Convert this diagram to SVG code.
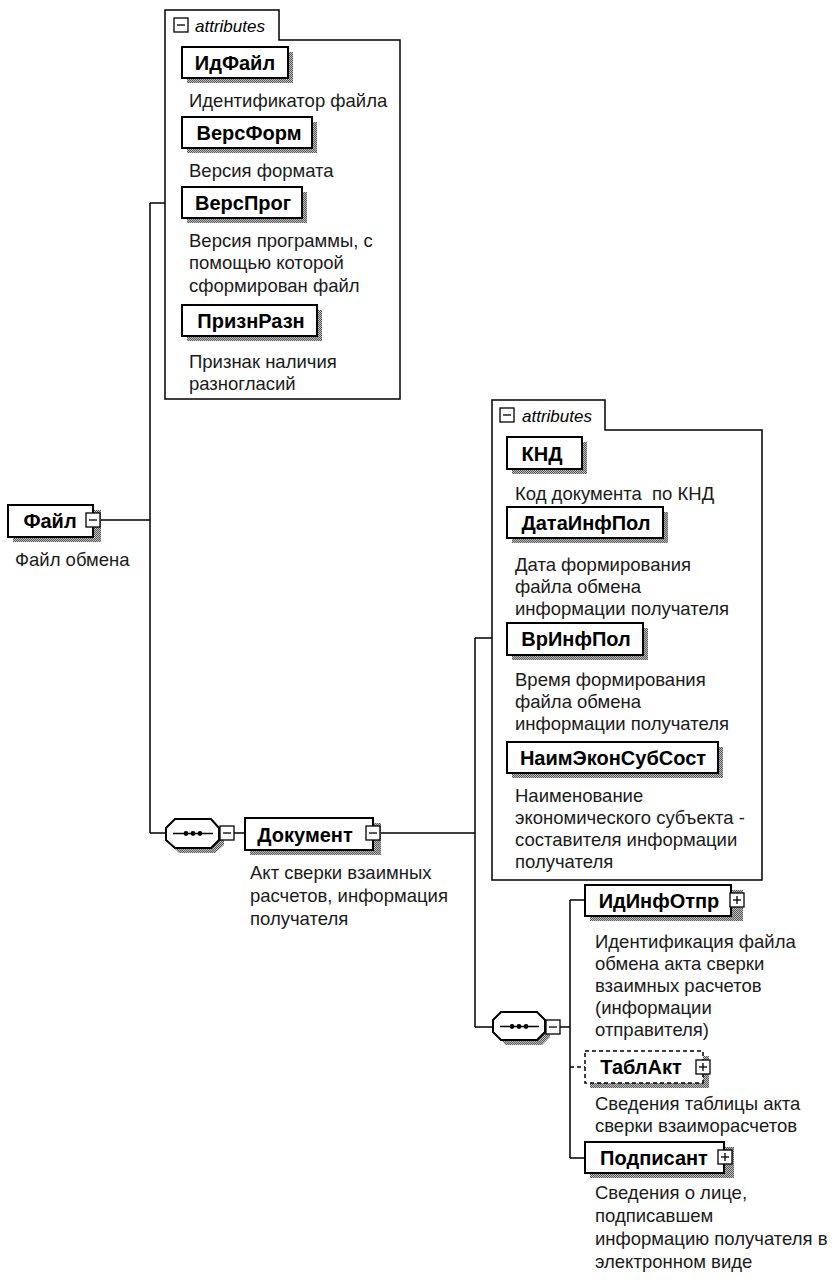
<svg xmlns="http://www.w3.org/2000/svg" width="837" height="1287" viewBox="0 0 837 1287">
<defs>
<pattern id="ht" width="2" height="2" patternUnits="userSpaceOnUse"><rect width="2" height="2" fill="#bdbdbd"/><rect width="1" height="1" fill="#5a5a5a"/><rect x="1" y="1" width="1" height="1" fill="#5a5a5a"/></pattern>
<g id="minus"><rect x="0" y="0" width="14" height="14" fill="#fff" stroke="#000" stroke-width="1.3"/><line x1="3" y1="7" x2="11" y2="7" stroke="#000" stroke-width="1.3"/></g>
<g id="plus"><rect x="0" y="0" width="14" height="14" fill="#fff" stroke="#000" stroke-width="1.3"/><line x1="3" y1="7" x2="11" y2="7" stroke="#000" stroke-width="1.3"/><line x1="7" y1="3" x2="7" y2="11" stroke="#000" stroke-width="1.3"/></g>
</defs>
<style>
.bx{fill:#fff;stroke:#000;stroke-width:2}
.dbx{fill:#fff;stroke:#000;stroke-width:1.5;stroke-dasharray:4 3}
.sh{fill:url(#ht)}
.cont{fill:#fff;stroke:#000;stroke-width:1.5}
.nm{font-family:"Liberation Sans",Arial,sans-serif;font-weight:bold;font-size:20px;fill:#000;text-anchor:middle}
.ds{font-family:"Liberation Sans",Arial,sans-serif;font-size:18.5px;fill:#1a1a1a}
.at{font-family:"Liberation Sans",Arial,sans-serif;font-style:italic;font-size:17px;fill:#000}
.ln{fill:none;stroke:#000;stroke-width:1.5}
.dln{fill:none;stroke:#000;stroke-width:1.5;stroke-dasharray:4 3}
</style>
<rect width="837" height="1287" fill="#fff"/>

<g id="connectors">
<path class="ln" d="M100,520 H150 M150,203 V833 M150,203 H165 M150,833 H166 M234,833 H245 M380,833 H475 M475,638 V1027 M475,638 H492 M475,1027 H493 M560,1027 H570 M570,900 V1158 M570,900 H585 M570,1158 H585"/>
<path class="dln" d="M570,1067 H585"/>
</g>

<g id="attrs1">
<path class="cont" d="M165,399 V10 H279 V40 H400 V399 Z"/>
<use href="#minus" x="174" y="18"/>
<text class="at" x="195" y="32">attributes</text>
</g>
<g id="ИдФайл">
<rect class="sh" x="187" y="52" width="106" height="31"/>
<rect class="bx" x="182" y="47" width="106" height="31"/>
<text class="nm" x="235" y="70">ИдФайл</text>
<text class="ds" x="189" y="107">Идентификатор файла</text>
</g>
<g id="ВерсФорм">
<rect class="sh" x="187" y="122" width="130" height="31"/>
<rect class="bx" x="182" y="117" width="130" height="31"/>
<text class="nm" x="249" y="140">ВерсФорм</text>
<text class="ds" x="189" y="177">Версия формата</text>
</g>
<g id="ВерсПрог">
<rect class="sh" x="187" y="192" width="120" height="31"/>
<rect class="bx" x="182" y="187" width="120" height="31"/>
<text class="nm" x="243" y="210">ВерсПрог</text>
<text class="ds" x="189" y="247">Версия программы, с</text>
<text class="ds" x="189" y="269">помощью которой</text>
<text class="ds" x="189" y="292">сформирован файл</text>
</g>
<g id="ПризнРазн">
<rect class="sh" x="187" y="310" width="135" height="31"/>
<rect class="bx" x="182" y="305" width="135" height="31"/>
<text class="nm" x="251" y="328">ПризнРазн</text>
<text class="ds" x="189" y="368">Признак наличия</text>
<text class="ds" x="189" y="390">разногласий</text>
</g>

<g id="Файл">
<rect class="sh" x="13" y="510" width="88" height="32"/>
<rect class="bx" x="8" y="505" width="85" height="32"/>
<use href="#minus" x="86" y="513"/>
<text class="nm" x="50" y="528">Файл</text>
<text class="ds" x="15" y="566">Файл обмена</text>
</g>

<g id="seq1">
<polygon class="sh" points="179,824 215,824 224,833 224,845 215,853 179,853 171,845 171,833"/>
<polygon class="bx" points="175,819 211,819 219,828 219,840 211,848 175,848 166,840 166,828"/>
<line x1="173" y1="833.5" x2="213" y2="833.5" stroke="#000" stroke-width="1.5"/>
<circle cx="186" cy="833.5" r="2.4"/><circle cx="193" cy="833.5" r="2.4"/><circle cx="200" cy="833.5" r="2.4"/>
<use href="#minus" x="220" y="826"/>
</g>

<g id="Документ">
<rect class="sh" x="250" y="823" width="131" height="32"/>
<rect class="bx" x="245" y="818" width="128" height="32"/>
<use href="#minus" x="366" y="826"/>
<text class="nm" x="305" y="842">Документ</text>
<text class="ds" x="250" y="879">Акт сверки взаимных</text>
<text class="ds" x="250" y="902">расчетов, информация</text>
<text class="ds" x="250" y="925">получателя</text>
</g>

<g id="attrs2">
<path class="cont" d="M492,880 V400 H605 V430 H762 V880 Z"/>
<use href="#minus" x="500" y="408"/>
<text class="at" x="522" y="422">attributes</text>
</g>
<g id="КНД">
<rect class="sh" x="512" y="442" width="75" height="32"/>
<rect class="bx" x="507" y="437" width="75" height="32"/>
<text class="nm" x="542" y="461">КНД</text>
<text class="ds" x="515" y="500" xml:space="preserve">Код документа  по КНД</text>
</g>
<g id="ДатаИнфПол">
<rect class="sh" x="512" y="512" width="156" height="31"/>
<rect class="bx" x="507" y="507" width="156" height="31"/>
<text class="nm" x="586" y="530">ДатаИнфПол</text>
<text class="ds" x="515" y="571">Дата формирования</text>
<text class="ds" x="515" y="593">файла обмена</text>
<text class="ds" x="515" y="615">информации получателя</text>
</g>
<g id="ВрИнфПол">
<rect class="sh" x="512" y="628" width="136" height="32"/>
<rect class="bx" x="507" y="623" width="136" height="32"/>
<text class="nm" x="576" y="646">ВрИнфПол</text>
<text class="ds" x="515" y="686">Время формирования</text>
<text class="ds" x="515" y="708">файла обмена</text>
<text class="ds" x="515" y="730">информации получателя</text>
</g>
<g id="НаимЭконСубСост">
<rect class="sh" x="512" y="747" width="211" height="31"/>
<rect class="bx" x="507" y="742" width="211" height="31"/>
<text class="nm" x="613" y="765">НаимЭконСубСост</text>
<text class="ds" x="515" y="802">Наименование</text>
<text class="ds" x="515" y="824">экономического субъекта -</text>
<text class="ds" x="515" y="846">составителя информации</text>
<text class="ds" x="515" y="868">получателя</text>
</g>

<g id="seq2">
<polygon class="sh" points="506,1017 542,1017 550,1025 550,1037 542,1045 506,1045 498,1037 498,1025"/>
<polygon class="bx" points="501,1012 537,1012 545,1020 545,1032 537,1040 501,1040 493,1032 493,1020"/>
<line x1="500" y1="1026.5" x2="539" y2="1026.5" stroke="#000" stroke-width="1.5"/>
<circle cx="512" cy="1026.5" r="2.4"/><circle cx="519" cy="1026.5" r="2.4"/><circle cx="526" cy="1026.5" r="2.4"/>
<use href="#minus" x="546" y="1020"/>
</g>

<g id="ИдИнфОтпр">
<rect class="sh" x="590" y="890" width="153" height="31"/>
<rect class="bx" x="585" y="885" width="146" height="31"/>
<use href="#plus" x="730" y="893"/>
<text class="nm" x="659" y="908">ИдИнфОтпр</text>
<text class="ds" x="595" y="948">Идентификация файла</text>
<text class="ds" x="595" y="970">обмена акта сверки</text>
<text class="ds" x="595" y="992">взаимных расчетов</text>
<text class="ds" x="595" y="1014">(информации</text>
<text class="ds" x="595" y="1036">отправителя)</text>
</g>
<g id="ТаблАкт">
<rect class="sh" x="590" y="1056" width="119" height="32"/>
<rect class="dbx" x="585" y="1051" width="118" height="32"/>
<use href="#plus" x="696" y="1060"/>
<text class="nm" x="641" y="1074">ТаблАкт</text>
<text class="ds" x="595" y="1110">Сведения таблицы акта</text>
<text class="ds" x="595" y="1132">сверки взаиморасчетов</text>
</g>
<g id="Подписант">
<rect class="sh" x="590" y="1147" width="144" height="31"/>
<rect class="bx" x="585" y="1142" width="139" height="31"/>
<use href="#plus" x="718" y="1150"/>
<text class="nm" x="654" y="1165">Подписант</text>
<text class="ds" x="595" y="1199">Сведения о лице,</text>
<text class="ds" x="595" y="1222">подписавшем</text>
<text class="ds" x="595" y="1245">информацию получателя в</text>
<text class="ds" x="595" y="1268">электронном виде</text>
</g>
</svg>
